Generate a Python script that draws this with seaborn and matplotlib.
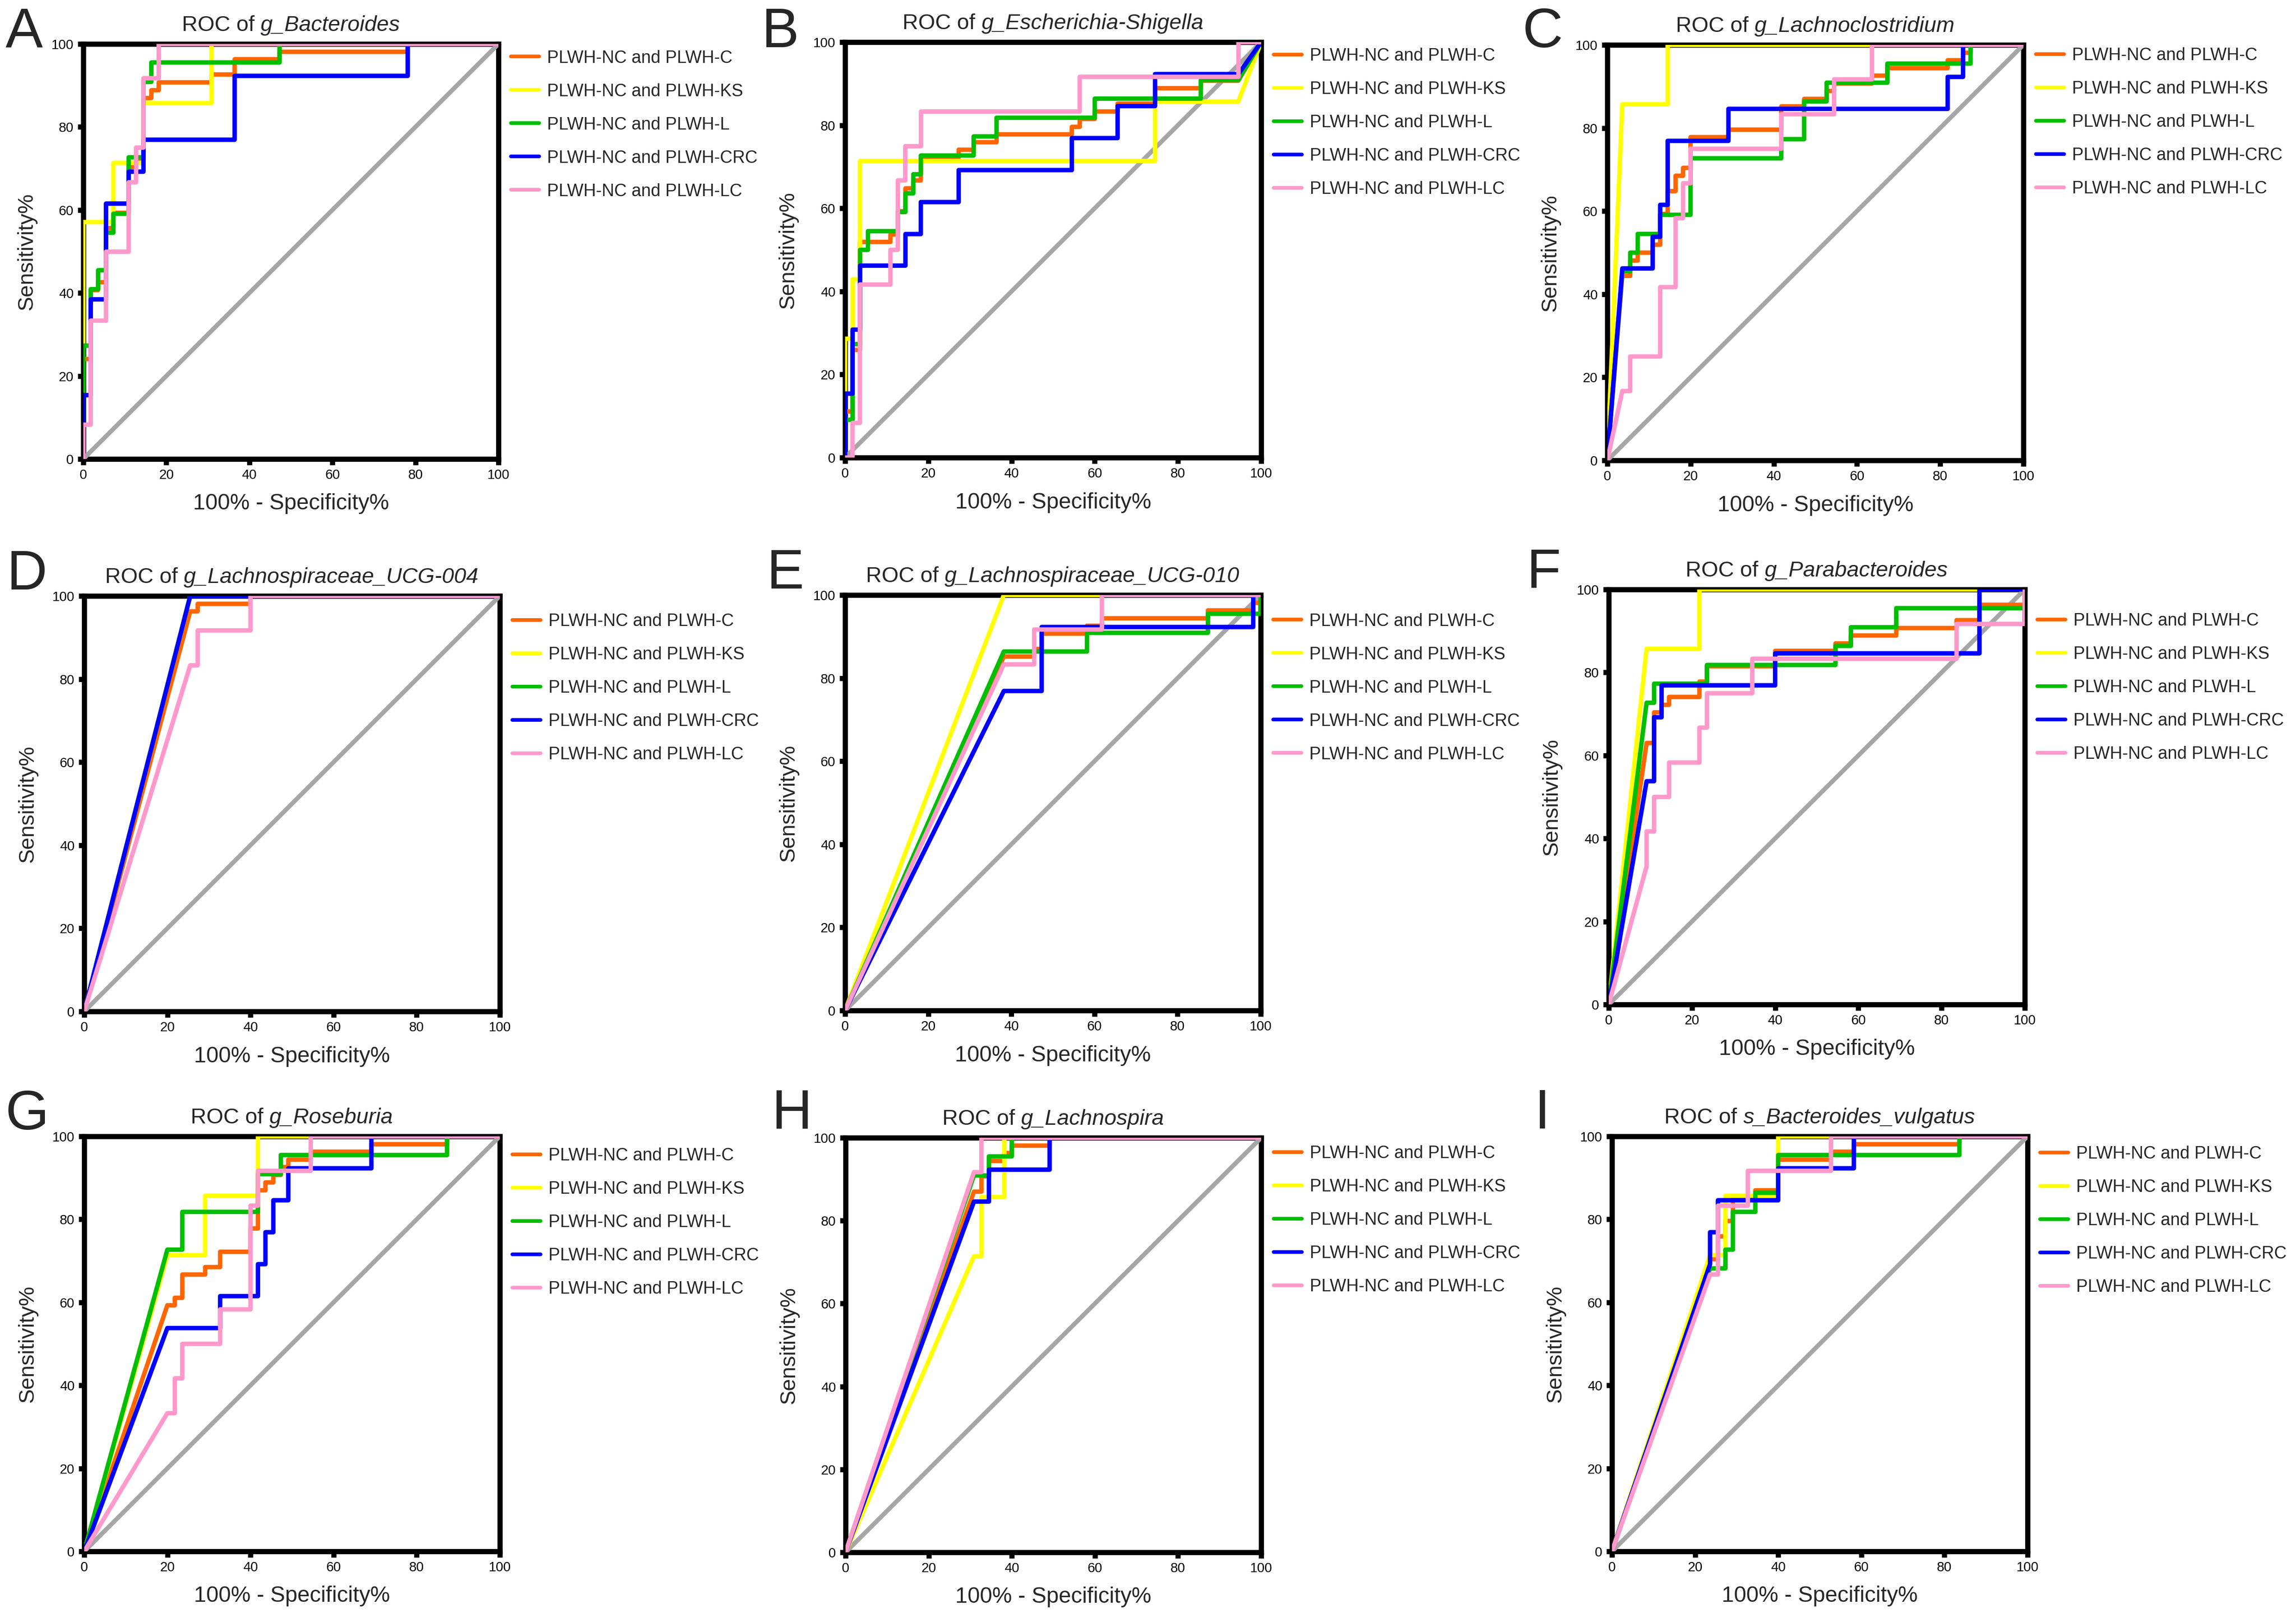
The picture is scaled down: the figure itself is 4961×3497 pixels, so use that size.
import numpy as np
import pandas as pd
import seaborn as sns
import matplotlib.pyplot as plt

# ---------------- data (100% - specificity, sensitivity) ----------------
groups = ['PLWH-NC and PLWH-C', 'PLWH-NC and PLWH-KS', 'PLWH-NC and PLWH-L',
          'PLWH-NC and PLWH-CRC', 'PLWH-NC and PLWH-LC']
taxa = ['g_Bacteroides', 'g_Escherichia-Shigella', 'g_Lachnoclostridium',
        'g_Lachnospiraceae_UCG-004', 'g_Lachnospiraceae_UCG-010', 'g_Parabacteroides',
        'g_Roseburia', 'g_Lachnospira', 's_Bacteroides_vulgatus']
panel_letters = ['A', 'B', 'C', 'D', 'E', 'F', 'G', 'H', 'I']

a_c = [(0,0),(0,24.1),(1.8,24.1),(1.8,40.7),(3.6,40.7),(3.6,42.6),(5.5,42.6),(5.5,55.6),(7.3,55.6),
       (7.3,59.3),(10.9,59.3),(10.9,70.4),(12.7,70.4),(12.7,72.2),(14.5,72.2),(14.5,87.0),(16.4,87.0),
       (16.4,88.9),(18.2,88.9),(18.2,90.7),(30.9,90.7),(30.9,92.6),(36.4,92.6),(36.4,96.3),(47.3,96.3),
       (47.3,98.1),(78.2,98.1),(78.2,100),(100,100)]
a_ks = [(0,0),(0,57.1),(7.3,57.1),(7.3,71.4),(14.5,71.4),(14.5,85.7),(30.9,85.7),(30.9,100),(100,100)]
a_l = [(0,0),(0,27.3),(1.8,27.3),(1.8,40.9),(3.6,40.9),(3.6,45.5),(5.5,45.5),(5.5,54.5),(7.3,54.5),
       (7.3,59.1),(10.9,59.1),(10.9,72.7),(14.5,72.7),(14.5,90.9),(16.4,90.9),(16.4,95.5),(47.3,95.5),
       (47.3,100),(100,100)]
a_crc = [(0,0),(0,15.4),(1.8,15.4),(1.8,38.5),(5.5,38.5),(5.5,61.5),(10.9,61.5),(10.9,69.2),(14.5,69.2),
         (14.5,76.9),(36.4,76.9),(36.4,92.3),(78.2,92.3),(78.2,100),(100,100)]
a_lc = [(0,0),(0,8.3),(1.8,8.3),(1.8,33.3),(5.5,33.3),(5.5,50),(10.9,50),(10.9,66.7),(12.7,66.7),
        (12.7,75),(14.5,75),(14.5,91.7),(18.2,91.7),(18.2,100),(100,100)]

b_c = [(0,0),(0,11.1),(1.8,11.1),(1.8,25.9),(3.6,25.9),(3.6,51.9),(10.9,51.9),(10.9,53.7),(12.7,53.7),
       (12.7,59.3),(14.5,59.3),(14.5,64.8),(16.4,64.8),(16.4,66.7),(18.2,66.7),(18.2,72.2),(27.3,72.2),
       (27.3,74.1),(30.9,74.1),(30.9,75.9),(36.4,75.9),(36.4,77.8),(54.5,77.8),(54.5,79.6),(56.4,79.6),
       (56.4,81.5),(60,81.5),(60,83.3),(65.5,83.3),(65.5,85.2),(74.5,85.2),(74.5,88.9),(85.5,88.9),
       (85.5,90.7),(94.5,90.7),(100,100)]
b_ks = [(0,0),(0,28.6),(1.8,28.6),(1.8,42.9),(3.6,42.9),(3.6,71.4),(74.5,71.4),(74.5,85.7),(94.5,85.7),
        (100,100)]
b_l = [(0,0),(0,9.1),(1.8,9.1),(1.8,27.3),(3.6,27.3),(3.6,50),(5.5,50),(5.5,54.5),(12.7,54.5),
       (12.7,59.1),(14.5,59.1),(14.5,63.6),(16.4,63.6),(16.4,68.2),(18.2,68.2),(18.2,72.7),(30.9,72.7),
       (30.9,77.3),(36.4,77.3),(36.4,81.8),(60,81.8),(60,86.4),(85.5,86.4),(85.5,90.9),(94.5,90.9),
       (100,100)]
b_crc = [(0,0),(0,15.4),(1.8,15.4),(1.8,30.8),(3.6,30.8),(3.6,46.2),(14.5,46.2),(14.5,53.8),(18.2,53.8),
         (18.2,61.5),(27.3,61.5),(27.3,69.2),(54.5,69.2),(54.5,76.9),(65.5,76.9),(65.5,84.6),(74.5,84.6),
         (74.5,92.3),(94.5,92.3),(100,100)]
b_lc = [(0,0),(1.8,0),(1.8,8.3),(3.6,8.3),(3.6,41.7),(10.9,41.7),(10.9,50),(12.7,50),(12.7,66.7),
        (14.5,66.7),(14.5,75),(18.2,75),(18.2,83.3),(56.4,83.3),(56.4,91.7),(94.5,91.7),(94.5,100),
        (100,100)]

c_c = [(0,0),(3.6,44.4),(5.5,44.4),(5.5,48.1),(7.3,48.1),(7.3,50),(10.9,50),(10.9,51.9),(12.7,51.9),
       (12.7,59.3),(14.5,59.3),(14.5,64.8),(16.4,64.8),(16.4,68.5),(18.2,68.5),(18.2,70.4),(20,70.4),
       (20,77.8),(29.1,77.8),(29.1,79.6),(41.8,79.6),(41.8,85.2),(47.3,85.2),(47.3,87),(52.7,87),
       (52.7,88.9),(54.5,88.9),(54.5,90.7),(63.6,90.7),(63.6,92.6),(67.3,92.6),(67.3,94.4),(81.8,94.4),
       (81.8,96.3),(85.5,96.3),(85.5,98.1),(87.3,98.1),(87.3,100),(100,100)]
c_ks = [(0,0),(3.6,85.7),(14.5,85.7),(14.5,100),(100,100)]
c_l = [(0,0),(3.6,45.5),(5.5,45.5),(5.5,50),(7.3,50),(7.3,54.5),(12.7,54.5),(12.7,59.1),(20,59.1),
       (20,72.7),(41.8,72.7),(41.8,77.3),(47.3,77.3),(47.3,86.4),(52.7,86.4),(52.7,90.9),(67.3,90.9),
       (67.3,95.5),(87.3,95.5),(87.3,100),(100,100)]
c_crc = [(0,0),(3.6,46.2),(10.9,46.2),(10.9,53.8),(12.7,53.8),(12.7,61.5),(14.5,61.5),(14.5,76.9),
         (29.1,76.9),(29.1,84.6),(81.8,84.6),(81.8,92.3),(85.5,92.3),(85.5,100),(100,100)]
c_lc = [(0,0),(3.6,16.7),(5.5,16.7),(5.5,25),(12.7,25),(12.7,41.7),(16.4,41.7),(16.4,58.3),(18.2,58.3),
        (18.2,66.7),(20,66.7),(20,75),(41.8,75),(41.8,83.3),(54.5,83.3),(54.5,91.7),(63.6,91.7),
        (63.6,100),(100,100)]

d_c = [(0,0),(25.5,96.3),(27.3,96.3),(27.3,98.1),(40,98.1),(40,100),(100,100)]
d_ks = [(0,0),(25.5,100),(100,100)]
d_l = [(0,0),(25.5,100),(100,100)]
d_crc = [(0,0),(25.5,100),(100,100)]
d_lc = [(0,0),(25.5,83.3),(27.3,83.3),(27.3,91.7),(40,91.7),(40,100),(100,100)]

e_c = [(0,0),(38.2,85.2),(45.5,85.2),(45.5,87),(47.3,87),(47.3,90.7),(58.2,90.7),(58.2,92.6),(61.8,92.6),
       (61.8,94.4),(87.3,94.4),(87.3,96.3),(98.2,96.3),(98.2,98.1),(100,98.1),(100,100)]
e_ks = [(0,0),(38.2,100),(100,100)]
e_l = [(0,0),(38.2,86.4),(58.2,86.4),(58.2,90.9),(87.3,90.9),(87.3,95.5),(100,95.5),(100,100)]
e_crc = [(0,0),(38.2,76.9),(47.3,76.9),(47.3,92.3),(98.2,92.3),(98.2,100),(100,100)]
e_lc = [(0,0),(38.2,83.3),(45.5,83.3),(45.5,91.7),(61.8,91.7),(61.8,100),(100,100)]

f_c = [(0,0),(9.1,63),(10.9,63),(10.9,70.4),(12.7,70.4),(12.7,72.2),(14.5,72.2),(14.5,74.1),(21.8,74.1),
       (21.8,77.8),(23.6,77.8),(23.6,81.5),(40,81.5),(40,85.2),(54.5,85.2),(54.5,87),(58.2,87),(58.2,88.9),
       (69.1,88.9),(69.1,90.7),(83.6,90.7),(83.6,92.6),(89.1,92.6),(89.1,96.3),(100,96.3),(100,100)]
f_ks = [(0,0),(9.1,85.7),(21.8,85.7),(21.8,100),(100,100)]
f_l = [(0,0),(9.1,72.7),(10.9,72.7),(10.9,77.3),(23.6,77.3),(23.6,81.8),(54.5,81.8),(54.5,86.4),
       (58.2,86.4),(58.2,90.9),(69.1,90.9),(69.1,95.5),(100,95.5),(100,100)]
f_crc = [(0,0),(9.1,53.8),(10.9,53.8),(10.9,69.2),(12.7,69.2),(12.7,76.9),(40,76.9),(40,84.6),
         (89.1,84.6),(89.1,100),(100,100)]
f_lc = [(0,0),(9.1,33.3),(9.1,41.7),(10.9,41.7),(10.9,50),(14.5,50),(14.5,58.3),(21.8,58.3),(21.8,66.7),
        (23.6,66.7),(23.6,75),(34.5,75),(34.5,83.3),(83.6,83.3),(83.6,91.7),(100,91.7),(100,100)]

g_c = [(0,0),(20,59.3),(21.8,59.3),(21.8,61.1),(23.6,61.1),(23.6,66.7),(29.1,66.7),(29.1,68.5),(32.7,68.5),
       (32.7,72.2),(40,72.2),(40,77.8),(41.8,77.8),(41.8,87),(43.6,87),(43.6,88.9),(45.5,88.9),(45.5,90.7),
       (47.3,90.7),(47.3,92.6),(49.1,92.6),(49.1,94.4),(54.5,94.4),(54.5,96.3),(69.1,96.3),(69.1,98.1),
       (87.3,98.1),(87.3,100),(100,100)]
g_ks = [(0,0),(20,71.4),(29.1,71.4),(29.1,85.7),(41.8,85.7),(41.8,100),(100,100)]
g_l = [(0,0),(20,72.7),(23.6,72.7),(23.6,81.8),(41.8,81.8),(41.8,90.9),(47.3,90.9),(47.3,95.5),
       (87.3,95.5),(87.3,100),(100,100)]
g_crc = [(0,0),(20,53.8),(32.7,53.8),(32.7,61.5),(41.8,61.5),(41.8,69.2),(43.6,69.2),(43.6,76.9),
         (45.5,76.9),(45.5,84.6),(49.1,84.6),(49.1,92.3),(69.1,92.3),(69.1,100),(100,100)]
g_lc = [(0,0),(20,33.3),(21.8,33.3),(21.8,41.7),(23.6,41.7),(23.6,50),(32.7,50),(32.7,58.3),(40,58.3),
        (40,83.3),(41.8,83.3),(41.8,91.7),(54.5,91.7),(54.5,100),(100,100)]

h_c = [(0,0),(30.9,87),(32.7,87),(32.7,90.7),(34.5,90.7),(34.5,94.4),(38.2,94.4),(38.2,96.3),(40,96.3),
       (40,98.1),(49.1,98.1),(49.1,100),(100,100)]
h_ks = [(0,0),(30.9,71.4),(32.7,71.4),(32.7,85.7),(38.2,85.7),(38.2,100),(100,100)]
h_l = [(0,0),(30.9,90.9),(34.5,90.9),(34.5,95.5),(40,95.5),(40,100),(100,100)]
h_crc = [(0,0),(30.9,84.6),(34.5,84.6),(34.5,92.3),(49.1,92.3),(49.1,100),(100,100)]
h_lc = [(0,0),(30.9,91.7),(32.7,91.7),(32.7,100),(100,100)]

i_c = [(0,0),(23.6,70.4),(25.5,70.4),(25.5,75.9),(27.3,75.9),(27.3,79.6),(29.1,79.6),(29.1,85.2),
       (34.5,85.2),(34.5,87),(40,87),(40,94.4),(52.7,94.4),(52.7,96.3),(58.2,96.3),(58.2,98.1),
       (83.6,98.1),(83.6,100),(100,100)]
i_ks = [(0,0),(23.6,71.4),(27.3,71.4),(27.3,85.7),(40,85.7),(40,100),(100,100)]
i_l = [(0,0),(23.6,68.2),(27.3,68.2),(27.3,72.7),(29.1,72.7),(29.1,81.8),(34.5,81.8),(34.5,86.4),
       (40,86.4),(40,95.5),(83.6,95.5),(83.6,100),(100,100)]
i_crc = [(0,0),(23.6,69.2),(23.6,76.9),(25.5,76.9),(25.5,84.6),(40,84.6),(40,92.3),(58.2,92.3),
         (58.2,100),(100,100)]
i_lc = [(0,0),(23.6,66.7),(25.5,66.7),(25.5,83.3),(32.7,83.3),(32.7,91.7),(52.7,91.7),(52.7,100),(100,100)]

curves = [[a_c, a_ks, a_l, a_crc, a_lc], [b_c, b_ks, b_l, b_crc, b_lc], [c_c, c_ks, c_l, c_crc, c_lc],
          [d_c, d_ks, d_l, d_crc, d_lc], [e_c, e_ks, e_l, e_crc, e_lc], [f_c, f_ks, f_l, f_crc, f_lc],
          [g_c, g_ks, g_l, g_crc, g_lc], [h_c, h_ks, h_l, h_crc, h_lc], [i_c, i_ks, i_l, i_crc, i_lc]]
ticks = [0, 20, 40, 60, 80, 100]

# ---------------- layout (pixels of the 4961x3497 canvas) ----------------
W, H = 4961, 3497
axes_px = [(180, 95, 1077, 992), (1826, 91, 2725, 989), (3473, 97, 4372, 995),
           (182, 1288, 1080, 2186), (1826, 1286, 2724, 2184), (3476, 1274, 4375, 2171),
           (182, 2456, 1080, 3353), (1827, 2459, 2725, 3355), (3483, 2456, 4381, 3353)]
letter_px = [(12, 102), (1645, 102), (3290, 102), (14, 1274), (1656, 1272), (3298, 1270),
             (12, 2441), (1667, 2441), (3316, 2439)]
legend_top = [0.986, 0.987, 0.994, 0.959, 0.957, 0.944, 0.973, 0.982, 0.978]
colors = ['#FF6600', '#FFFF00', '#00BE00', '#0000FF', '#FF99CC']

sns.set_style('ticks')
plt.rcParams['font.family'] = ['Liberation Sans', 'DejaVu Sans']

fig = plt.figure(figsize=(W / 300, H / 300), dpi=300)
renderer = fig.canvas.get_renderer()

for k in range(9):
    x0, y0, x1, y1 = axes_px[k]
    ax = fig.add_axes([x0 / W, 1 - y1 / H, (x1 - x0) / W, (y1 - y0) / H])

    ax.plot([0, 100], [0, 100], color='#A6A6A6', lw=2.3, zorder=2.9)
    handles = []
    for j in range(5):
        pts = np.array(curves[k][j], dtype=float)
        sns.lineplot(x=pts[:, 0], y=pts[:, 1], sort=False, estimator=None, color=colors[j],
                     lw=2.3, ax=ax, zorder=3 + j * 0.1, legend=False)
        handles.append(ax.lines[-1])

    ax.set_xlim(0, 100)
    ax.set_ylim(0, 100)
    ax.set_xticks(ticks)
    ax.set_yticks(ticks)
    ax.tick_params(direction='out', length=3.0, width=2.7, labelsize=7, pad=2, colors='black')
    for s in ax.spines.values():
        s.set_visible(True)
        s.set_linewidth(2.7)
        s.set_color('black')

    ax.set_ylabel('Sensitivity%', fontsize=11.3)
    ax.yaxis.set_label_coords(-0.112, 0.5)
    ax.set_xlabel('100% - Specificity%', fontsize=11.5)
    ax.xaxis.set_label_coords(0.5, -0.083)

    leg = ax.legend(handles, groups, loc='upper left', bbox_to_anchor=(1.03, legend_top[k]),
                    frameon=False, fontsize=9, borderpad=0, borderaxespad=0,
                    handlelength=1.63, handletextpad=0.45, labelspacing=0.96)
    for ln in leg.get_lines():
        ln.set_linewidth(1.9)

    # title: "ROC of " plain + taxon name in italics, centred over the axes
    ty = 1 + 28 / (y1 - y0)
    t1 = ax.text(0.5, ty, 'ROC of', transform=ax.transAxes, ha='left', va='baseline', fontsize=11.3)
    t2 = ax.text(0.5, ty, taxa[k], transform=ax.transAxes, ha='left', va='baseline',
                 fontsize=11.3, style='italic')
    w1 = t1.get_window_extent(renderer).width
    w2 = t2.get_window_extent(renderer).width
    sp = 0.278 * 11.3 * 300 / 72
    axw = x1 - x0
    start = 0.5 - (w1 + sp + w2) / 2 / axw
    t1.set_x(start)
    t2.set_x(start + (w1 + sp) / axw)

    lx, ly = letter_px[k]
    fig.text(lx / W, 1 - ly / H, panel_letters[k], fontsize=29, ha='left', va='baseline')

fig.savefig('out.png', dpi=300)
